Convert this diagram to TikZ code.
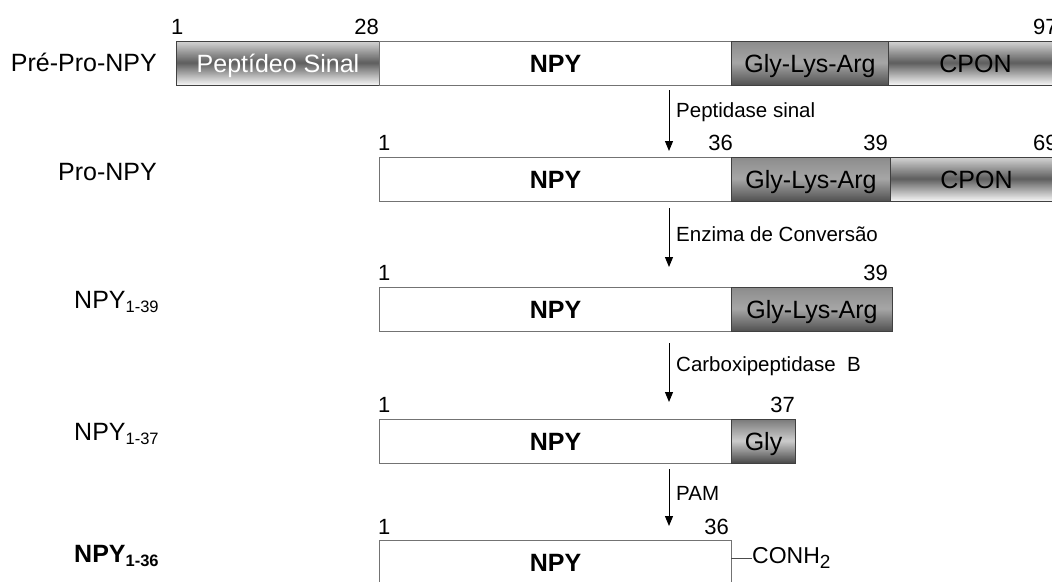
\documentclass[tikz,border=0pt]{standalone}
\usepackage{fontspec}
\setmainfont{Liberation Sans}
\usetikzlibrary{arrows.meta}
\newcommand\fbig{\fontsize{25}{29}\selectfont}
\newcommand\fnum{\fontsize{22}{26}\selectfont}
\newcommand\fsm{\fontsize{20.5}{24}\selectfont}
\newcommand\fsb{\fontsize{16.5}{18}\selectfont}
\newcommand\subn[1]{\raisebox{-4pt}{\fsb #1}}
\definecolor{sgtop}{HTML}{D4D4D4}
\definecolor{sgmid}{HTML}{5E5E5E}
\definecolor{sgbot}{HTML}{F0F0F0}
\definecolor{gatop}{HTML}{8C8C8C}
\definecolor{gamid}{HTML}{A6A6A6}
\definecolor{gabot}{HTML}{555555}
\definecolor{gytop}{HTML}{7A7A7A}
\definecolor{gymid}{HTML}{CCCCCC}
\definecolor{gybot}{HTML}{4E4E4E}
% vertical three-colour gradient made of thin strips: x, y(top), width, top, middle, bottom
\newcommand\gstrips[6]{%
  \foreach \i in {0,...,43}{%
    \pgfmathsetmacro\tt{\i/43}%
    \ifdim\tt pt<0.5pt
      \pgfmathtruncatemacro\pp{200*\tt}%
      \fill[#5!\pp!#4] (#1,{#2+\i}) rectangle ({#1+#3},{#2+\i+1.3});
    \else
      \pgfmathtruncatemacro\pp{200*(\tt-0.5)}%
      \fill[#6!\pp!#5] (#1,{#2+\i}) rectangle ({#1+#3},{#2+\i+1.3});
    \fi
  }}
\begin{document}
\begin{tikzpicture}[x=1pt,y=-1pt,
  seg/.style={draw=black!75, line width=1pt, inner sep=0pt, minimum height=44pt,
    text height=18pt, text depth=0pt, anchor=north west, font=\fbig},
  wbox/.style={seg, draw=black!55, fill=white, font=\fbig\bfseries},
  sigbox/.style={seg, text=white},
  cpbox/.style={seg},
  glabox/.style={seg},
  glybox/.style={seg},
  num/.style={inner sep=0pt, font=\fnum},
  lab/.style={inner sep=0pt, font=\fbig},
  enz/.style={inner sep=0pt, font=\fsm, anchor=west},
  arr/.style={-{Triangle[width=8pt,length=10pt]}, line width=1pt}
]
\useasboundingbox (0,0) rectangle (1052,581);
\clip (0,0) rectangle (1052,581);

% gradient fills
\gstrips{176}{41}{203}{sgtop}{sgmid}{sgbot}
\gstrips{731}{41}{157}{gatop}{gamid}{gabot}
\gstrips{888}{41}{174}{sgtop}{sgmid}{sgbot}
\gstrips{731}{157}{159}{gatop}{gamid}{gabot}
\gstrips{890}{157}{172}{sgtop}{sgmid}{sgbot}
\gstrips{731}{287}{161}{gatop}{gamid}{gabot}
\gstrips{731}{419}{64}{gytop}{gymid}{gybot}

% Row 1
\node[sigbox, minimum width=203pt] (s1) at (176,41) {Peptídeo Sinal};
\node[wbox, minimum width=352pt] (n1) at (379,41) {NPY};
\node[glabox, minimum width=157pt] (g1) at (731,41) {Gly-Lys-Arg};
\node[cpbox, minimum width=174pt] (c1) at (888,41) {CPON};
\node[num, anchor=base west] (l1a) at (171,34) {1};
\node[num, anchor=base east] (l1b) at (379,34) {28};
\node[num, anchor=base west] (l1c) at (1033,34) {97};
\node[lab, anchor=east] (t1) at (157,62) {Pré-Pro-NPY};

% Row 2
\node[wbox, minimum width=352pt] (n2) at (379,157) {NPY};
\node[glabox, minimum width=159pt] (g2) at (731,157) {Gly-Lys-Arg};
\node[cpbox, minimum width=172pt] (c2) at (890,157) {CPON};
\node[num, anchor=base west] (l2a) at (378,150) {1};
\node[num, anchor=base east] (l2b) at (733,150) {36};
\node[num, anchor=base east] (l2c) at (888,150) {39};
\node[num, anchor=base west] (l2d) at (1033,150) {69};
\node[lab, anchor=east] (t2) at (157,172) {Pro-NPY};

% Row 3
\node[wbox, minimum width=352pt] (n3) at (379,287) {NPY};
\node[glabox, minimum width=161pt] (g3) at (731,287) {Gly-Lys-Arg};
\node[num, anchor=base west] (l3a) at (378,280) {1};
\node[num, anchor=base east] (l3b) at (888,280) {39};
\node[lab, anchor=west] (t3) at (74,302) {NPY\subn{1-39}};

% Row 4
\node[wbox, minimum width=352pt] (n4) at (379,419) {NPY};
\node[glybox, minimum width=64pt] (g4) at (731,419) {Gly};
\node[num, anchor=base west] (l4a) at (378,412) {1};
\node[num, anchor=base east] (l4b) at (795,412) {37};
\node[lab, anchor=west] (t4) at (74,434) {NPY\subn{1-37}};

% Row 5
\node[wbox, minimum width=352pt] (n5) at (379,540) {NPY};
\node[num, anchor=base west] (l5a) at (378,534) {1};
\node[num, anchor=base east] (l5b) at (729,534) {36};
\node[lab, anchor=west] (t5) at (74,556) {\bfseries NPY\subn{\bfseries 1-36}};
\coordinate (cs) at (731,558);
\node[inner sep=0pt, font=\fontsize{23}{26}\selectfont, anchor=west] (conh) at (752,558) {CONH\raisebox{-5pt}{\fontsize{19}{20}\selectfont 2}};
\draw[line width=0.8pt, black!70] (cs) -- (conh.west);

% Arrows
\coordinate (a1s) at (669,90);  \coordinate (a1e) at (669,151);
\coordinate (a2s) at (669,208); \coordinate (a2e) at (669,267);
\coordinate (a3s) at (669,343); \coordinate (a3e) at (669,402);
\coordinate (a4s) at (669,469); \coordinate (a4e) at (669,526);
\draw[arr] (a1s) -- (a1e);
\draw[arr] (a2s) -- (a2e);
\draw[arr] (a3s) -- (a3e);
\draw[arr] (a4s) -- (a4e);
\node[enz] (e1) at (676,112) {Peptidase sinal};
\node[enz] (e2) at (676,234) {Enzima de Conversão};
\node[enz] (e3) at (676,366) {Carboxipeptidase\ \ B};
\node[enz] (e4) at (676,493) {PAM};
\end{tikzpicture}
\end{document}
